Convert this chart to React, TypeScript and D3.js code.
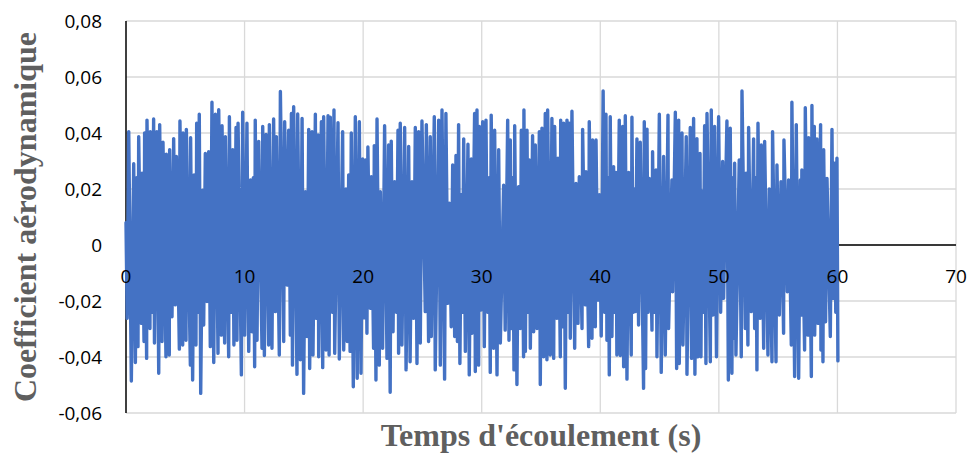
import React from "react";
import * as d3 from "d3";

// Axis ticks
const xTicks = [0, 10, 20, 30, 40, 50, 60, 70];
const yTicks = [-0.06, -0.04, -0.02, 0, 0.02, 0.04, 0.06, 0.08];

// Aerodynamic coefficient record as successive swings: [time (s), value]
const swings0to20: [number, number][] = [
  [0, 0.008],
  [0.1, -0.0262], [0.23, 0.0405], [0.45, -0.0486], [0.65, 0.029], [0.79, -0.042], [0.9, 0.024],
  [1.01, -0.0363], [1.07, 0.0387], [1.29, -0.028], [1.35, 0.0256], [1.52, -0.0345], [1.57, 0.04],
  [1.74, -0.0405], [1.77, 0.0446], [2.02, -0.0298], [2.05, 0.0405], [2.19, -0.024], [2.33, 0.045],
  [2.4, -0.035], [2.6, 0.0405], [2.76, -0.0458], [2.84, 0.043], [3.04, -0.0345], [3.12, 0.0367],
  [3.37, -0.0399], [3.4, 0.0324], [3.65, -0.0393], [3.68, 0.034], [3.88, -0.0256], [4.02, 0.038],
  [4.16, -0.0214], [4.25, 0.0316], [4.5, -0.0372], [4.55, 0.0443], [4.78, -0.0357], [4.81, 0.04],
  [5.06, -0.034], [5.09, 0.0413], [5.43, -0.0429], [5.45, 0.0383], [5.62, -0.0482], [5.74, 0.025],
  [5.9, -0.0357], [5.96, 0.0435], [6.07, -0.024], [6.18, 0.0467], [6.3, -0.053], [6.47, 0.0196],
  [6.55, -0.0286], [6.69, 0.0327], [6.83, -0.0202], [6.97, 0.0333], [7.11, -0.0363], [7.25, 0.051],
  [7.4, -0.042], [7.54, 0.0467], [7.76, -0.0387], [7.82, 0.0483], [8.04, -0.0322], [8.1, 0.0426],
  [8.32, -0.035], [8.38, 0.0387], [8.66, -0.0399], [8.72, 0.0458], [8.86, -0.024], [9.0, 0.034],
  [9.1, -0.0357], [9.28, 0.042], [9.36, -0.034], [9.45, 0.0435], [9.73, -0.0464], [9.84, 0.0474],
  [10.01, -0.0322], [10.2, 0.0435], [10.35, -0.038], [10.5, 0.0232], [10.63, -0.031], [10.74, 0.024],
  [10.85, -0.0435], [10.9, 0.0446], [11.05, -0.034], [11.19, 0.037], [11.47, -0.0369], [11.53, 0.0423],
  [11.67, -0.0395], [11.81, 0.0395], [12.03, -0.0357], [12.09, 0.043], [12.31, -0.0369], [12.45, 0.045],
  [12.6, -0.0238], [12.68, 0.0387], [12.93, -0.0393], [13.02, 0.0548], [13.3, -0.0345], [13.38, 0.044],
  [13.58, -0.0143], [13.72, 0.041], [13.86, -0.0322], [13.95, 0.047], [14.04, -0.0429], [14.14, 0.0494],
  [14.42, -0.0462], [14.48, 0.0468], [14.7, -0.041], [14.85, 0.0452], [14.98, -0.053], [15.13, 0.019],
  [15.27, -0.0327], [15.41, 0.0413], [15.49, -0.0441], [15.69, 0.0405], [15.77, -0.0393], [15.97, 0.0467],
  [16.03, -0.0262], [16.2, 0.0393], [16.25, -0.0399], [16.48, 0.044], [16.59, -0.0438], [16.67, 0.0458],
  [16.87, -0.0375], [17.04, 0.0462], [17.13, -0.0393], [17.23, 0.0456], [17.4, -0.024], [17.54, 0.0482],
  [17.6, -0.0387], [17.88, 0.0437], [17.99, -0.0407], [18.27, 0.0405], [18.36, -0.0375], [18.55, 0.02],
  [18.66, -0.0345], [18.78, 0.025], [18.9, -0.038], [19.0, 0.04], [19.17, -0.0506], [19.34, 0.0458],
  [19.5, -0.0476], [19.68, 0.044], [19.82, -0.0458], [19.96, 0.0307],
];

const swings20to40: [number, number][] = [
  [20.1, -0.026], [20.2, 0.0304], [20.32, -0.0315], [20.4, 0.035], [20.6, -0.0226], [20.69, 0.0244],
  [20.88, -0.0369], [20.94, 0.0355], [21.08, -0.0482], [21.17, 0.045], [21.36, -0.0429], [21.45, 0.019],
  [21.64, -0.0369], [21.81, 0.0426], [22.01, -0.0405], [22.15, 0.0357], [22.28, -0.0526], [22.37, 0.0371],
  [22.52, -0.031], [22.65, 0.0226], [22.8, -0.024], [22.94, 0.041], [22.99, -0.0387], [23.13, 0.0435],
  [23.27, -0.0357], [23.5, 0.042], [23.62, -0.0446], [23.84, 0.0352], [23.96, -0.0417], [24.12, 0.0226],
  [24.26, -0.0262], [24.4, 0.042], [24.54, -0.0423], [24.68, 0.0405], [24.82, -0.035], [24.96, 0.0443],
  [25.24, -0.0238], [25.33, 0.043], [25.52, -0.0345], [25.66, 0.0387], [25.75, -0.0327], [26.0, 0.0458],
  [26.08, -0.0446], [26.37, 0.0446], [26.51, -0.0429], [26.65, 0.0482], [26.87, -0.0479], [26.98, 0.047],
  [27.15, -0.0208], [27.27, 0.0149], [27.43, -0.0292], [27.55, 0.0286], [27.72, -0.0327], [27.83, 0.032],
  [27.95, -0.0345], [28.05, 0.043], [28.16, -0.0423], [28.28, 0.018], [28.38, -0.024], [28.48, 0.0379],
  [28.62, -0.038], [28.84, 0.036], [28.95, -0.0464], [29.12, 0.0307], [29.18, -0.0315], [29.4, 0.047],
  [29.46, -0.0452], [29.6, 0.0482], [29.74, -0.0429], [29.8, 0.0423], [29.94, -0.0232], [30.08, 0.044],
  [30.22, -0.0363], [30.36, 0.0446], [30.5, -0.024], [30.62, 0.024], [30.72, -0.0455], [30.8, 0.0464],
  [31.0, -0.0369], [31.09, 0.041], [31.29, -0.0464], [31.43, 0.034], [31.57, -0.035], [31.85, 0.0214],
  [31.98, -0.0304], [32.19, 0.0446], [32.3, -0.034], [32.41, 0.0375], [32.5, -0.0298], [32.62, 0.024],
  [32.72, -0.0446], [32.78, 0.0426], [32.97, -0.0498], [33.11, 0.0208], [33.25, -0.0298], [33.34, 0.041],
  [33.53, -0.0399], [33.56, 0.0482], [33.68, -0.038], [33.82, 0.041], [33.92, -0.024], [34.01, 0.0304],
  [34.1, -0.0369], [34.29, 0.039], [34.38, -0.031], [34.52, 0.0357], [34.66, -0.0298], [34.86, 0.0405],
  [34.94, -0.0498], [35.08, 0.0417], [35.22, -0.0399], [35.36, 0.047], [35.5, -0.041], [35.56, 0.0482],
  [35.78, -0.0393], [35.92, 0.0452], [36.07, -0.0405], [36.15, 0.0423], [36.35, -0.0262], [36.43, 0.031],
  [36.63, -0.0399], [36.66, 0.0446], [36.78, -0.0292], [36.91, 0.0435], [37.05, -0.0512], [37.19, 0.0446],
  [37.29, -0.024], [37.39, 0.0435], [37.47, -0.0333], [37.61, 0.0478], [37.84, -0.0369], [37.95, 0.022],
  [38.12, -0.028], [38.23, 0.0244], [38.46, -0.0298], [38.51, 0.0413], [38.74, -0.0214], [38.79, 0.0262],
  [39.02, -0.0363], [39.07, 0.044], [39.3, -0.0333], [39.35, 0.0375], [39.58, -0.0292], [39.64, 0.0375],
  [39.8, -0.0197], [39.92, 0.018],
];

const swings40to60: [number, number][] = [
  [40.08, -0.0325], [40.24, 0.055], [40.36, -0.024], [40.48, 0.0467], [40.56, -0.034], [40.66, 0.024],
  [40.76, -0.0464], [40.84, 0.0458], [40.98, -0.0327], [41.12, 0.028], [41.22, -0.024], [41.32, 0.0259],
  [41.4, -0.0393], [41.6, 0.0446], [41.69, -0.0395], [41.88, 0.0423], [41.97, -0.0435], [42.11, 0.0462],
  [42.25, -0.0479], [42.39, 0.0259], [42.61, -0.0393], [42.67, 0.0456], [42.78, -0.024], [42.9, 0.02],
  [42.95, -0.0238], [43.09, 0.0379], [43.23, -0.0286], [43.37, 0.0367], [43.65, -0.0512], [43.71, 0.044],
  [43.82, -0.0441], [43.94, 0.0414], [44.04, -0.024], [44.13, 0.0238], [44.36, -0.0304], [44.41, 0.0333],
  [44.55, -0.024], [44.7, 0.0268], [44.78, -0.0399], [44.98, 0.0467], [45.14, -0.0455], [45.34, 0.0316],
  [45.48, -0.0393], [45.71, 0.0464], [45.76, -0.0298], [46.04, 0.0232], [46.1, -0.0167], [46.33, 0.0474],
  [46.44, -0.0441], [46.61, 0.0446], [46.66, -0.0423], [46.89, 0.04], [46.97, -0.0357], [47.25, 0.0387],
  [47.31, -0.0462], [47.59, 0.042], [47.7, -0.0405], [47.87, 0.0452], [47.98, -0.0462], [48.15, 0.038],
  [48.24, -0.0399], [48.41, 0.0327], [48.49, -0.0399], [48.57, 0.0193], [48.68, -0.024], [48.8, 0.0426],
  [48.91, -0.0423], [49.0, 0.047], [49.28, -0.0417], [49.36, 0.0482], [49.5, -0.025], [49.64, 0.0423],
  [49.8, -0.0399], [49.98, 0.0458], [50.15, -0.024], [50.32, 0.0298], [50.4, -0.019], [50.68, 0.0443],
  [50.8, -0.0482], [50.96, 0.0417], [51.1, -0.0458], [51.18, 0.024], [51.25, -0.0333], [51.33, 0.0292],
  [51.44, -0.0393], [51.72, 0.0304], [51.89, -0.0399], [51.95, 0.055], [52.23, -0.0298], [52.29, 0.0256],
  [52.45, -0.0357], [52.51, 0.042], [52.73, -0.0238], [52.93, 0.0379], [53.02, -0.0298], [53.12, 0.024],
  [53.21, -0.0446], [53.3, 0.0435], [53.49, -0.0262], [53.58, 0.0357], [53.78, -0.0369], [53.86, 0.037],
  [54.14, -0.0393], [54.25, 0.02], [54.48, -0.0417], [54.53, 0.0405], [54.82, -0.0417], [54.9, 0.0286],
  [55.1, -0.025], [55.24, 0.0226], [55.46, -0.0315], [55.49, 0.0375], [55.77, -0.0167], [55.88, 0.0232],
  [56.11, -0.0357], [56.16, 0.051], [56.39, -0.047], [56.53, 0.043], [56.73, -0.0476], [56.87, 0.0232],
  [56.95, -0.025], [57.0, 0.0268], [57.23, -0.0375], [57.29, 0.049], [57.51, -0.0322], [57.57, 0.0383],
  [57.8, -0.047], [57.85, 0.0498], [57.95, -0.024], [58.05, 0.0423], [58.08, -0.0322], [58.27, 0.0379],
  [58.36, -0.028], [58.58, 0.043], [58.61, -0.0375], [58.7, 0.024], [58.78, -0.0417], [58.84, 0.034],
  [59.0, -0.0274], [59.12, 0.0238], [59.4, -0.0327], [59.54, 0.0413], [59.65, -0.019], [59.76, 0.0292],
  [59.86, -0.024], [59.96, 0.031], [60.04, -0.0414],
];

const xTitle = "Temps d'écoulement (s)";
const yTitle = "Coefficient aérodynamique";

const WIDTH = 971;
const HEIGHT = 459;
const plot = { left: 126, right: 956, top: 21, bottom: 413 };

const tickFont = "'Open Sans', 'Liberation Sans', sans-serif";
const titleFont = "'Liberation Serif', 'Times New Roman', serif";

const fmt = (v: number) => (Math.abs(v) < 1e-9 ? "0" : v.toFixed(2).replace(".", ","));

export default function App() {
  const x = d3.scaleLinear().domain([0, 70]).range([plot.left, plot.right]);
  const y = d3.scaleLinear().domain([-0.06, 0.08]).range([plot.bottom, plot.top]);

  const series = [...swings0to20, ...swings20to40, ...swings40to60];
  const line = d3
    .line<[number, number]>()
    .x((d) => x(d[0]))
    .y((d) => y(d[1]));

  return (
    <svg
      width={WIDTH}
      height={HEIGHT}
      style={{ position: "absolute", left: 0, top: 0, background: "#fff" }}
    >
      <rect x={0} y={0} width={WIDTH} height={HEIGHT} fill="#fff" />
      {/* gridlines */}
      {yTicks.map((t) => (
        <line key={"gy" + t} x1={plot.left} x2={plot.right} y1={y(t)} y2={y(t)} stroke="#d9d9d9" strokeWidth={1.3} />
      ))}
      {xTicks.filter((t) => t > 0).map((t) => (
        <line key={"gx" + t} x1={x(t)} x2={x(t)} y1={plot.top} y2={plot.bottom} stroke="#d9d9d9" strokeWidth={1.3} />
      ))}
      {/* axes */}
      <line x1={x(0)} x2={x(0)} y1={plot.top} y2={plot.bottom} stroke="#000" strokeWidth={1.5} />
      <line x1={plot.left} x2={plot.right} y1={y(0)} y2={y(0)} stroke="#000" strokeWidth={1.5} />
      {/* signal */}
      <path
        d={line(series) ?? ""}
        fill="none"
        stroke="#4472c4"
        strokeWidth={3.4}
        strokeLinejoin="round"
        strokeLinecap="round"
      />
      {/* tick labels */}
      {yTicks.map((t) => (
        <text key={"ly" + t} x={102} y={y(t) + 6.8} textAnchor="end" fontFamily={tickFont} fontSize={19} fill="#000">
          {fmt(t)}
        </text>
      ))}
      {xTicks.map((t) => (
        <text key={"lx" + t} x={x(t)} y={283} textAnchor="middle" fontFamily={tickFont} fontSize={19} fill="#000">
          {t}
        </text>
      ))}
      {/* axis titles */}
      <text
        x={(plot.left + plot.right) / 2}
        y={446}
        textAnchor="middle"
        fontFamily={titleFont}
        fontWeight="bold"
        fontSize={32}
        fill="#5f5f5f"
      >
        {xTitle}
      </text>
      <text
        transform={`translate(36, ${(plot.top + plot.bottom) / 2}) rotate(-90)`}
        textAnchor="middle"
        fontFamily={titleFont}
        fontWeight="bold"
        fontSize={32}
        fill="#5f5f5f"
      >
        {yTitle}
      </text>
    </svg>
  );
}
